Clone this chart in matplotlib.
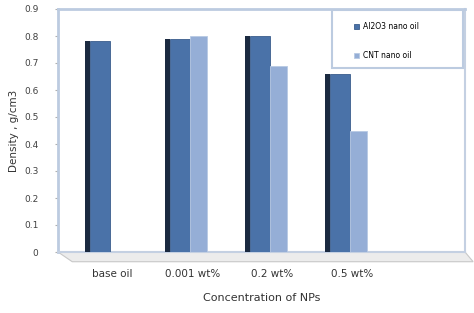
import matplotlib.pyplot as plt
import matplotlib.patches as mpatches
import numpy as np

categories = ["base oil", "0.001 wt%", "0.2 wt%", "0.5 wt%"]
al2o3 = [0.78, 0.79, 0.80, 0.66]
cnt = [np.nan, 0.80, 0.69, 0.45]
yticks = [0, 0.1, 0.2, 0.3, 0.4, 0.5, 0.6, 0.7, 0.8, 0.9]

fig = plt.figure(figsize=(4.74, 3.13), dpi=100)
ax = fig.add_axes([58 / 474, 61 / 313, 407 / 474, 243 / 313])

x = np.arange(len(categories))
w_al = 0.25
w_cnt = 0.21
side = 0.06

# dark side faces, then the front faces
ax.bar(x - w_al - side, al2o3, side, align='edge', color='#1b2a40', zorder=3)
ax.bar(x - w_al, al2o3, w_al, align='edge', color='#4a72a8',
       edgecolor='#3a5d8c', linewidth=0.6, label='Al2O3 nano oil', zorder=3)
ax.bar(x, cnt, w_cnt, align='edge', color='#95aed6',
       edgecolor='#b8c9e4', linewidth=0.6, label='CNT nano oil', zorder=3)

ax.set_xlim(-0.65, 4.44)
ax.set_ylim(0, 0.9)
ax.set_yticks(yticks)
ax.set_yticklabels(['0' if t == 0 else f'{t:.1f}' for t in yticks],
                   fontsize=6.5, color='#404040')
ax.set_xticks(x + 0.03)
ax.set_xticklabels(categories, fontsize=7.5, color='#333333')
ax.tick_params(axis='x', length=0, pad=12)
ax.tick_params(axis='y', length=2, color='#b0b0b0', pad=12)

for s in ['left', 'top']:
    ax.spines[s].set_color('#bccbe0')
    ax.spines[s].set_linewidth(2)
ax.spines['right'].set_color('#c4d0e2')
ax.spines['right'].set_linewidth(1.5)
ax.spines['bottom'].set_color('#c4d0e2')
ax.spines['bottom'].set_linewidth(1.5)

# floor of the 3D chart
ax.fill([0, 0.035, 1.02, 1.0], [0, -0.04, -0.04, 0], transform=ax.transAxes,
        color='#ececec', ec='#c8c8c8', lw=0.8, clip_on=False, zorder=1)

ax.set_ylabel('Density , g/cm3', fontsize=7.5, color='#333333', labelpad=4)
ax.set_xlabel('Concentration of NPs', fontsize=8, color='#333333', labelpad=10)

# legend box
ax.add_patch(mpatches.Rectangle((0.673, 0.757), 0.322, 0.239, transform=ax.transAxes,
                                facecolor='white', edgecolor='#bccbe0', lw=1.5,
                                zorder=4))
leg = ax.legend(loc='upper left', bbox_to_anchor=(0.71, 0.975), borderaxespad=0,
                fontsize=5.5, frameon=False, borderpad=0.9, labelspacing=2.6,
                handlelength=0.7, handleheight=0.6, handletextpad=0.5)
leg.set_zorder(5)

fig.savefig('out.png', dpi=100)
